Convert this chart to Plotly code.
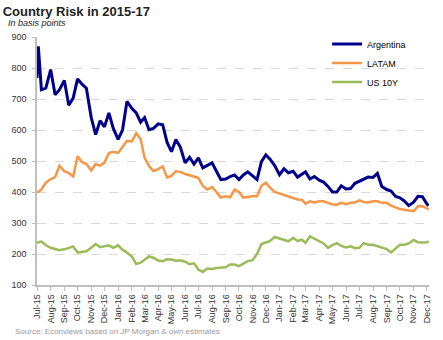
import plotly.graph_objects as go

dates = ["2015-07-01", "2015-07-04", "2015-07-11", "2015-07-21"]
for y in (2015, 2016, 2017):
    for m in range(1, 13):
        if (y == 2015 and m < 8) or (y == 2017 and m > 11):
            continue
        for d in ("01", "11", "21"):
            dates.append(f"{y}-{m:02d}-{d}")
dates += ["2017-12-01", "2017-12-05"]

tick_labels = ["Jul-15", "Aug-15", "Sep-15", "Oct-15", "Nov-15", "Dec-15",
               "Jan-16", "Feb-16", "Mar-16", "Apr-16", "May-16", "Jun-16",
               "Jul-16", "Aug-16", "Sep-16", "Oct-16", "Nov-16", "Dec-16",
               "Jan-17", "Feb-17", "Mar-17", "Apr-17", "May-17", "Jun-17",
               "Jul-17", "Aug-17", "Sep-17", "Oct-17", "Nov-17", "Dec-17"]
tick_dates = [f"{2015 + (6 + i) // 12}-{(6 + i) % 12 + 1:02d}-01" for i in range(len(tick_labels))]

argentina = [768, 870, 730, 735,
             795, 714, 730, 760, 680, 703, 765, 748, 735, 640, 585, 630, 610, 655, 605,
             570, 600, 692, 670, 655, 625, 640, 601, 605, 620, 617, 560, 530, 569, 545,
             494, 512, 490, 510, 478, 485, 494, 467, 440, 442, 450, 455, 440, 455, 465,
             452, 440, 498, 520, 505, 485,
             456, 475, 462, 467, 448, 456, 465, 442, 450, 438, 432, 418, 400, 400, 420,
             410, 411, 428, 435, 442, 448, 447, 460, 418, 408, 403, 386, 381, 371, 356,
             367, 386, 385, 362, 356]
latam = [402, 400, 408, 430,
         442, 448, 485, 467, 461, 450, 515, 497, 490, 470, 490, 485, 495, 526, 530,
         526, 545, 565, 563, 590, 570, 510, 484, 468, 474, 483, 447, 452, 467, 465,
         458, 455, 450, 445, 420, 408, 416, 400, 382, 386, 383, 408, 400, 382, 385,
         386, 386, 420, 430, 413, 400,
         395, 391, 386, 381, 376, 375, 362, 370, 366, 370, 370, 365, 360, 359, 365,
         361, 365, 366, 373, 368, 366, 370, 370, 365, 365, 356, 350, 345, 343, 340,
         338, 354, 354, 348, 343]
us10y = [235, 238, 240, 228,
         220, 217, 212, 215, 220, 224, 205, 208, 209, 220, 232, 222, 226, 228, 220,
         228, 214, 205, 192, 168, 172, 182, 192, 188, 179, 177, 183, 182, 178, 180,
         175, 167, 170, 150, 142, 153, 152, 155, 155, 157, 166, 166, 161, 168, 177,
         180, 200, 232, 236, 242, 255,
         250, 246, 241, 252, 242, 246, 236, 257, 250, 240, 234, 220, 229, 235, 226,
         221, 225, 219, 220, 235, 230, 230, 226, 221, 216, 205, 218, 230, 230, 234,
         245, 238, 237, 238, 241]

series = [("Argentina", argentina, "#00008B", 3),
          ("LATAM", latam, "#F79646", 2.5),
          ("US 10Y", us10y, "#9BBB59", 2.5)]

FONT = "Liberation Sans, Arial, sans-serif"

fig = go.Figure()
for name, vals, color, w in series:
    fig.add_trace(go.Scatter(x=dates, y=vals, mode="lines", name=name,
                             line=dict(color=color, width=w)))

fig.update_layout(
    width=443, height=340,
    margin=dict(l=30, r=11, t=37, b=55),
    paper_bgcolor="white", plot_bgcolor="white",
    font=dict(family=FONT, size=9, color="#333333"),
    showlegend=True,
    legend=dict(x=0.74, y=1.03, xanchor="left", yanchor="top",
                font=dict(size=9, color="#000000"), bgcolor="rgba(0,0,0,0)",
                tracegroupgap=0, itemwidth=30),
    title=dict(text="<b>Country Risk in 2015-17</b>", x=0.006, xanchor="left",
               y=0.965, yanchor="middle", xref="container", yref="container",
               font=dict(family=FONT, size=13, color="#222222")),
    annotations=[
        dict(text="<i>In basis points</i>", xref="paper", yref="paper",
             x=-0.078, y=1.055, xanchor="left", yanchor="middle", showarrow=False,
             font=dict(family=FONT, size=9, color="#222222")),
        dict(text="Source: Econviews based on JP Morgan & own estimates", xref="paper",
             yref="paper", x=-0.06, y=-0.188, xanchor="left", yanchor="middle",
             showarrow=False, font=dict(size=8, color="#999999")),
    ],
)
fig.update_yaxes(range=[100, 900], dtick=100, showgrid=True, gridcolor="#d9d9d9",
                 griddash="dash", gridwidth=1, showline=True, linecolor="#bfbfbf",
                 linewidth=1.5, ticks="outside", ticklen=3, tickcolor="#bfbfbf",
                 ticklabelstandoff=4, zeroline=False)
fig.update_xaxes(type="date", range=["2015-07-01", "2017-12-06"],
                 tickmode="array", tickvals=tick_dates, ticktext=tick_labels,
                 tickangle=-90, tickfont=dict(size=9),
                 showgrid=False, showline=True, linecolor="#bfbfbf", linewidth=1.5,
                 ticks="outside", ticklen=4, tickcolor="#bfbfbf")

fig.write_html("out.html")
